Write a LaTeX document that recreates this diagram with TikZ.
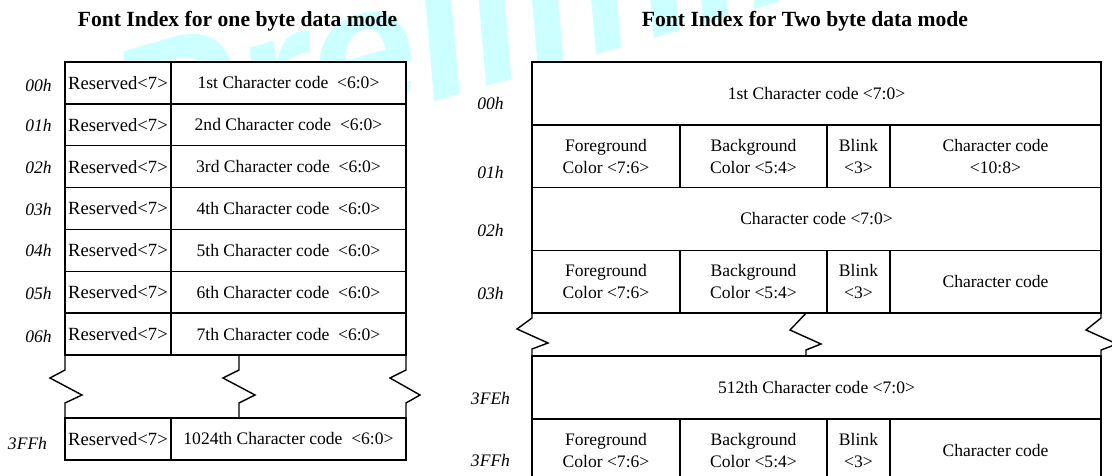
\documentclass[tikz,border=0pt]{standalone}
\usepackage{fontspec}
\setmainfont{Liberation Serif}
\newfontfamily\markfont{Liberation Sans}
\definecolor{markcyan}{RGB}{204,255,255}

% one table cell: name, extra style, x1, y1, x2, y2, text (pixel units)
\newcommand\tcell[7]{%
  \node[cell,#2,minimum width={(#5-#3)*0.02cm},minimum height={(#6-#4)*0.02cm}]
    (#1) at ({(#3+#5)/2},{(#4+#6)/2}) {#7};}

\begin{document}
\begin{tikzpicture}[x=0.02cm,y=-0.02cm,
  cell/.style={draw, line width=0.8pt, fill=white, inner sep=0pt, align=center,
    font=\fontsize{10}{12.5}\selectfont},
  resv/.style={font=\fontsize{10.6}{12.5}\selectfont},
  addr/.style={inner sep=0pt, font=\fontsize{10}{12}\selectfont\itshape},
  heading/.style={inner sep=0pt, anchor=base, font=\fontsize{12.3}{14}\selectfont\bfseries},
  brk/.style={line width=0.8pt, line join=miter},
  wm/.style={inner sep=0pt, anchor=base west, rotate=16, text=markcyan,
    font=\markfont\fontsize{110}{110}\selectfont\bfseries\itshape}]

\useasboundingbox (0,0) rectangle (1112,476);
\clip (0,0) rectangle (1112,476);

% background stamp
\node[wm] (mark) at (132,188) {Preliminary};

% headings
\node[heading] (t1) at (237.5,27) {Font Index for one byte data mode};
\node[heading] (t2) at (805,27) {Font Index for Two byte data mode};

% ---- one byte data mode ----
\foreach \i/\t in {0/1st,1/2nd,2/3rd,3/4th,4/5th,5/6th,6/7th}{
  \pgfmathsetmacro\ya{62+41.86*\i}
  \pgfmathsetmacro\yb{\ya+41.86}
  \tcell{res\i}{resv}{65}{\ya}{171}{\yb}{Reserved<7>}
  \tcell{chr\i}{}{171}{\ya}{406}{\yb}{\t\ Character code\ \ <6:0>}
}
\tcell{res9}{resv}{65}{418}{171}{460}{Reserved<7>}
\tcell{chr9}{}{171}{418}{406}{460}{1024th Character code\ \ <6:0>}

\draw[brk] (65,355) -- (65,370) -- (50,378) -- (82,395) -- (65,403) -- (65,418);
\draw[brk] (239,355) -- (239,370) -- (223,378) -- (255,395) -- (239,403) -- (239,418);
\draw[brk] (406,355) -- (406,370) -- (390,378) -- (420,395) -- (406,403) -- (406,418);

\foreach \n/\y/\lab in {0/85/00h,1/125/01h,2/167/02h,3/209/03h,4/250/04h,5/293/05h,6/336/06h}{
  \node[addr] (a\n) at (38.5,\y) {\lab};
}
\node[addr] (a9) at (27.5,443) {3FFh};

% ---- two byte data mode ----
\tcell{w0}{}{532}{62}{1101}{124.8}{1st Character code <7:0>}
\tcell{fg1}{}{532}{124.8}{680}{187.6}{Foreground\\Color <7:6>}
\tcell{bg1}{}{680}{124.8}{827}{187.6}{Background\\Color <5:4>}
\tcell{bl1}{}{827}{124.8}{890}{187.6}{Blink\\<3>}
\tcell{cc1}{}{890}{124.8}{1101}{187.6}{Character code\\<10:8>}
\tcell{w2}{}{532}{187.6}{1101}{250.4}{Character code <7:0>}
\tcell{fg3}{}{532}{250.4}{680}{313.2}{Foreground\\Color <7:6>}
\tcell{bg3}{}{680}{250.4}{827}{313.2}{Background\\Color <5:4>}
\tcell{bl3}{}{827}{250.4}{890}{313.2}{Blink\\<3>}
\tcell{cc3}{}{890}{250.4}{1101}{313.2}{Character code}
\tcell{wE}{}{532}{356}{1101}{419}{512th Character code <7:0>}
\tcell{fgF}{}{532}{419}{680}{482}{Foreground\\Color <7:6>}
\tcell{bgF}{}{680}{419}{827}{482}{Background\\Color <5:4>}
\tcell{blF}{}{827}{419}{890}{482}{Blink\\<3>}
\tcell{ccF}{}{890}{419}{1101}{482}{Character code}

\draw[brk] (532,313.2) -- (532,318) -- (517,329) -- (548,343) -- (532,349) -- (532,356);
\draw[brk] (806,313.2) -- (790,330) -- (821,344) -- (806,350) -- (806,356);
\draw[brk] (1101,313.2) -- (1101,318) -- (1086,330) -- (1117,344) -- (1101,350) -- (1101,356);

\foreach \n/\y/\lab in {0/103/00h,1/172/01h,2/230/02h,3/293/03h,E/398/3FEh,F/460/3FFh}{
  \node[addr] (b\n) at (490.5,\y) {\lab};
}
\end{tikzpicture}
\end{document}
